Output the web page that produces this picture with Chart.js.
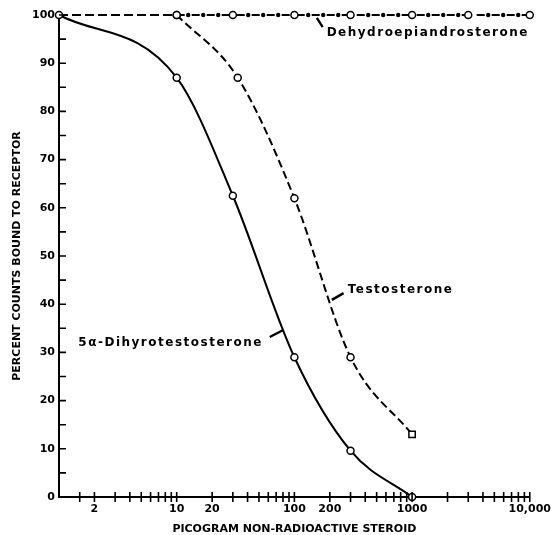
<!DOCTYPE html>
<html>
<head>
<meta charset="utf-8">
<script src="https://cdn.jsdelivr.net/npm/chart.js@4.4.0/dist/chart.umd.min.js"></script>
<style>
  html, body { margin: 0; padding: 0; background: #fff; }
</style>
</head>
<body>
<canvas id="binding" width="557" height="535"></canvas>
<script>
// competing steroid (pg, log axis) vs percent of labelled counts still bound
const dhtDose = [1, 10, 30, 100, 300, 1000];
const dhtBound = [100, 87, 62.5, 29, 9.6, 0];

const testoDose = [10, 33, 100, 300, 1000];
const testoBound = [100, 87, 62, 29, 13];

const dheaDose = [1, 10, 30, 100, 300, 1000, 3000, 10000];
const dheaBound = [100, 100, 100, 100, 100, 100, 100, 100];

const xTickValues = [2, 10, 20, 100, 200, 1000, 10000];
const xTickLabels = ['2', '10', '20', '100', '200', '1000', '10,000'];
const yTickStep = 10;
const yMinorStep = 5;

// little tick crosses along the dose axis: 1.5, then 2..9 of every decade
const xMinorTicks = [1.5];
for (let d = 1; d <= 1000; d *= 10) {
  for (let m = 2; m <= 10; m++) xMinorTicks.push(m * d);
}

// curve labels with their leader strokes (data units)
const notes = [
  { text: 'Dehydroepiandrosterone', x: 188, y: 96.3, align: 'left', lead: [[155, 99.4], [174, 97.5]] },
  { text: 'Testosterone', x: 284, y: 42.9, align: 'left', lead: [[208, 40.9], [262, 42.3]] },
  { text: '5\u03b1-Dihyrotestosterone', x: 54, y: 32, align: 'right', lead: [[61.8, 33.2], [79.7, 34.6]] }
];

const tickFont = { family: 'DejaVu Sans', weight: 'bold', size: 11 };
const titleFont = { family: 'DejaVu Sans', weight: 'bold', size: 11, lineHeight: 1 };

const pts = (xs, ys) => xs.map((x, i) => ({ x: x, y: ys[i] }));

const inkPlugin = {
  id: 'ink',
  afterDatasetsDraw(chart) {
    // beads along the dehydroepiandrosterone line
    const p = chart.getDatasetMeta(2).data;
    const ctx = chart.ctx;
    const x0 = p[1].x, x1 = p[p.length - 1].x, y = p[1].y;
    ctx.save();
    ctx.fillStyle = '#000';
    for (let x = x0 + 11.5; x < x1 - 4; x += 15) {
      if (p.some(q => Math.abs(q.x - x) < 5)) continue;
      ctx.beginPath();
      ctx.arc(x, y, 2.2, 0, Math.PI * 2);
      ctx.fill();
    }
    ctx.restore();
  },
  afterDraw(chart) {
    const ctx = chart.ctx;
    const xs = chart.scales.x, ys = chart.scales.y;
    const area = chart.chartArea;
    ctx.save();
    ctx.strokeStyle = '#000';
    ctx.lineWidth = 1.6;
    ctx.beginPath();
    xMinorTicks.forEach(v => {
      const px = xs.getPixelForValue(v);
      ctx.moveTo(px, area.bottom - 5);
      ctx.lineTo(px, area.bottom + 5);
    });
    for (let v = 0; v <= 100; v += yMinorStep) {
      const py = ys.getPixelForValue(v);
      ctx.moveTo(area.left, py);
      ctx.lineTo(area.left + 7, py);
    }
    ctx.stroke();

    ctx.font = 'bold 12px "DejaVu Sans"';
    ctx.letterSpacing = '1.5px';
    ctx.fillStyle = '#000';
    ctx.textBaseline = 'middle';
    ctx.lineWidth = 2.4;
    notes.forEach(n => {
      ctx.textAlign = n.align;
      ctx.fillText(n.text, xs.getPixelForValue(n.x), ys.getPixelForValue(n.y));
      ctx.beginPath();
      ctx.moveTo(xs.getPixelForValue(n.lead[0][0]), ys.getPixelForValue(n.lead[0][1]));
      ctx.lineTo(xs.getPixelForValue(n.lead[1][0]), ys.getPixelForValue(n.lead[1][1]));
      ctx.stroke();
    });
    ctx.restore();
  }
};

const marker = {
  pointBackgroundColor: '#fff',
  pointBorderColor: '#000',
  pointBorderWidth: 1.5,
  borderColor: '#000',
  borderWidth: 2,
  fill: false,
  cubicInterpolationMode: 'monotone',
  clip: false
};

new Chart(document.getElementById('binding'), {
  type: 'line',
  data: {
    datasets: [
      Object.assign({}, marker, {
        label: '5\u03b1-Dihyrotestosterone',
        data: pts(dhtDose, dhtBound),
        pointRadius: 3.5
      }),
      Object.assign({}, marker, {
        label: 'Testosterone',
        data: pts(testoDose, testoBound),
        borderDash: [8, 4],
        pointRadius: [3.5, 3.5, 3.5, 3.5, 4.5],
        pointStyle: ['circle', 'circle', 'circle', 'circle', 'rect']
      }),
      Object.assign({}, marker, {
        label: 'Dehydroepiandrosterone',
        data: pts(dheaDose, dheaBound),
        cubicInterpolationMode: 'default',
        tension: 0,
        pointRadius: [0, 3.5, 3.5, 3.5, 3.5, 3.5, 3.5, 3.5],
        segment: {
          borderDash: c => (c.p0DataIndex === 0 ? [9, 4] : [8, 7])
        }
      })
    ]
  },
  options: {
    responsive: false,
    animation: false,
    layout: { padding: { left: 0, top: 15, right: 27, bottom: 0 } },
    plugins: { legend: { display: false }, tooltip: { enabled: false } },
    scales: {
      x: {
        type: 'logarithmic',
        min: 1,
        max: 10000,
        afterBuildTicks: s => { s.ticks = xTickValues.map(v => ({ value: v })); },
        afterFit: s => { s.height = 38; },
        grid: { display: true, drawOnChartArea: false, drawTicks: false },
        border: { display: true, color: '#000', width: 2 },
        ticks: {
          autoSkip: false,
          maxRotation: 0,
          padding: 6,
          color: '#000',
          font: tickFont,
          callback: v => {
            const i = xTickValues.indexOf(v);
            return i >= 0 ? xTickLabels[i] : '';
          }
        },
        title: {
          display: true,
          text: 'PICOGRAM NON-RADIOACTIVE STEROID',
          color: '#000',
          font: titleFont,
          padding: { top: 0, bottom: 0 }
        }
      },
      y: {
        min: 0,
        max: 100,
        afterFit: s => { s.width = 59; },
        grid: { display: true, drawOnChartArea: false, drawTicks: false },
        border: { display: true, color: '#000', width: 2 },
        ticks: { stepSize: yTickStep, padding: 4, color: '#000', font: tickFont },
        title: {
          display: true,
          text: 'PERCENT COUNTS BOUND TO RECEPTOR',
          color: '#000',
          font: titleFont,
          padding: { top: 12, bottom: 0 }
        }
      }
    }
  },
  plugins: [inkPlugin]
});
</script>
</body>
</html>
